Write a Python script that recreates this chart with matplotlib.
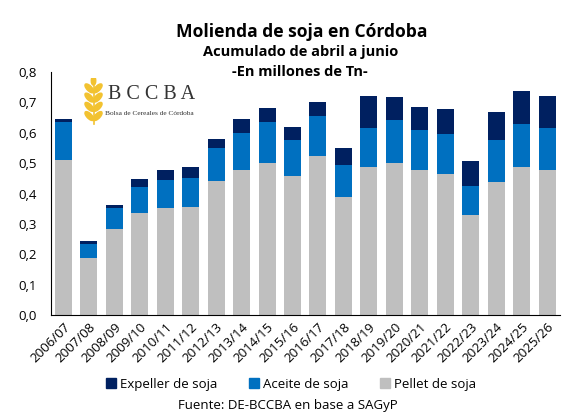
import matplotlib
matplotlib.use("Agg")
import matplotlib.pyplot as plt
from matplotlib.patches import Ellipse, Patch
import numpy as np

plt.rcParams['font.family'] = ['Open Sans', 'DejaVu Sans']

campanas = ['2006/07', '2007/08', '2008/09', '2009/10', '2010/11', '2011/12',
            '2012/13', '2013/14', '2014/15', '2015/16', '2016/17', '2017/18',
            '2018/19', '2019/20', '2020/21', '2021/22', '2022/23', '2023/24',
            '2024/25', '2025/26']
pellet = [0.512, 0.188, 0.284, 0.336, 0.354, 0.357, 0.443, 0.478, 0.502, 0.459,
          0.524, 0.390, 0.488, 0.501, 0.478, 0.465, 0.330, 0.438, 0.488, 0.478]
aceite = [0.124, 0.047, 0.070, 0.087, 0.092, 0.095, 0.107, 0.123, 0.132, 0.118,
          0.132, 0.104, 0.128, 0.142, 0.132, 0.132, 0.095, 0.139, 0.142, 0.138]
expeller = [0.010, 0.009, 0.009, 0.025, 0.032, 0.036, 0.030, 0.045, 0.048, 0.043,
            0.046, 0.056, 0.106, 0.076, 0.076, 0.082, 0.083, 0.092, 0.108, 0.106]

c_exp, c_ace, c_pel = '#002060', '#0070C0', '#BFBFBF'

fig = plt.figure(figsize=(5.72, 4.19), dpi=100)
ax = fig.add_axes([0.0886, 0.248, 0.890, 0.580])

x = np.arange(len(campanas))
w = 0.67
ax.bar(x, pellet, w, color=c_pel, label='Pellet de soja')
ax.bar(x, aceite, w, bottom=pellet, color=c_ace, label='Aceite de soja')
tope = np.array(pellet) + np.array(aceite)
ax.bar(x, expeller, w, bottom=tope, color=c_exp, label='Expeller de soja')

ax.set_xlim(-0.5, len(campanas) - 0.5)
ax.set_ylim(0, 0.8)
ax.set_yticks(np.arange(0, 0.81, 0.1))
ax.set_yticklabels([f'{v:.1f}'.replace('.', ',') for v in np.arange(0, 0.81, 0.1)])
ax.set_xticks(x)
ax.set_xticklabels(campanas, rotation=45, ha='right', rotation_mode='anchor')
ax.tick_params(length=0, labelsize=9.5, colors='black')
ax.tick_params(axis='y', pad=10)
ax.tick_params(axis='x', pad=4)
for s in ['top', 'right']:
    ax.spines[s].set_visible(False)

fig.text(0.528, 0.924, 'Molienda de soja en Córdoba', ha='center', va='center',
         fontsize=12.6, fontweight='bold')
fig.text(0.525, 0.877, 'Acumulado de abril a junio', ha='center', va='center',
         fontsize=10.5, fontweight='bold')
fig.text(0.525, 0.829, '-En millones de Tn-', ha='center', va='center',
         fontsize=10.5, fontweight='bold')

# logo
fig.text(0.188, 0.774, 'B C C B A', ha='left', va='center', fontsize=14.5,
         family='Liberation Serif', color='#333333')
fig.text(0.183, 0.730, 'Bolsa de Cereales de Córdoba', ha='left', va='center',
         fontsize=5.3, family='Liberation Serif', color='#333333')
lax = fig.add_axes([0.146, 0.70, 0.035, 0.115])
lax.set_xlim(-1, 1)
lax.set_ylim(0, 6)
lax.axis('off')
gold = '#F2C230'
for k in range(4):
    yy = 1.2 + k * 1.15
    lax.add_patch(Ellipse((-0.42, yy), 0.55, 1.3, angle=35, color=gold))
    lax.add_patch(Ellipse((0.42, yy), 0.55, 1.3, angle=-35, color=gold))
lax.add_patch(Ellipse((0, 5.6), 0.45, 1.1, color=gold))
lax.plot([0, 0], [0.2, 5], color=gold, lw=1.2)

handles = [Patch(color=c_exp), Patch(color=c_ace), Patch(color=c_pel)]
fig.legend(handles, ['Expeller de soja', 'Aceite de soja', 'Pellet de soja'],
           loc='center', bbox_to_anchor=(0.509, 0.083), ncol=3, frameon=False,
           fontsize=9.5, handlelength=0.75, handleheight=0.75, handletextpad=0.3,
           columnspacing=2.4)
fig.text(0.504, 0.033, 'Fuente: DE-BCCBA en base a SAGyP', ha='center', va='center',
         fontsize=9.5)

fig.savefig('out.png', dpi=100)
